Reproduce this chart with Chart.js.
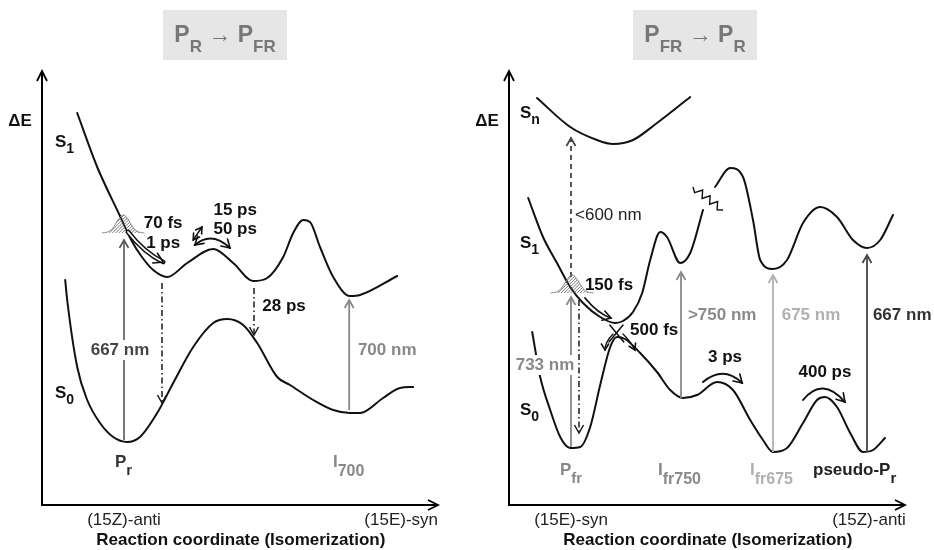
<!DOCTYPE html>
<html>
<head>
<meta charset="utf-8">
<script src="https://cdn.jsdelivr.net/npm/chart.js@4.4.1/dist/chart.umd.min.js"></script>
<style>
  html, body { margin: 0; padding: 0; background: #fff; }
  #wrap { position: relative; width: 934px; height: 550px; }
  .panel { position: absolute; top: 0; width: 467px; height: 550px; }
</style>
</head>
<body>
<div id="wrap">
  <div class="panel" style="left:0"><canvas id="cPr" width="467" height="550"></canvas></div>
  <div class="panel" style="left:467px"><canvas id="cPfr" width="467" height="550"></canvas></div>
</div>
<script>
const FONT = '"Liberation Sans", Arial, Helvetica, sans-serif';

// ---- Potential-energy surfaces, [reaction coordinate, ΔE] ----
const prS1 = [[8.8,78.4],[13.8,67.6],[19.5,57.8],[22.3,53],[24.8,49.8],[27.8,47],[31.3,45.6],[36.3,48.4],[42.8,51.2],[47.8,48.4],[52.8,44.8],[56.3,45.4],[60.3,49.6],[62.8,54.4],[65.3,57],[67,56.6],[69.5,51.6],[72.8,45.6],[77,41.8],[79.5,42],[88.8,45.8]];
const prS0 = [[5.8,45],[6.3,41],[8.8,27.6],[11.3,21],[14.5,16.4],[17.8,13.6],[21.3,12.6],[24.5,13.6],[28.8,18.4],[32.8,24.4],[37.8,31.6],[42.8,36.4],[46.3,37.2],[50.3,36],[53.8,32.4],[58.8,25.6],[62,24],[67.8,21],[72.8,19],[77,18.4],[79.5,18.4],[85.3,21.4],[89.5,23.4],[92.8,23.6]];

const pfrSn = [[7,81.4],[15.3,75.6],[22,73],[26,72.2],[31,73],[37,76.4],[45.3,81.6]];
const pfrS1a = [[4.8,61.4],[8.5,53.6],[12,48.4],[15.3,43.6],[18.5,40.4],[22.8,37.6],[26.5,36.4],[28.5,36.8],[31,38.6],[33.3,42.4],[35.3,49],[37.8,54.6],[39.5,53.6],[42.8,48.4],[45.3,50.4],[48.5,59]];
const pfrS1b = [[51.5,63.6],[55.3,67.4],[58.5,65.6],[61,57],[62.8,49],[66,47.2],[69.5,49],[73.5,56.4],[77.8,59.6],[82,57.6],[86,53],[89.5,51.4],[92.8,53],[96,58]];
const pfrS0 = [[5.8,34.6],[7.8,25.6],[10.3,19],[12.8,13.6],[15.3,11.4],[17.8,11.6],[20.3,15.6],[22.8,24],[25.3,31.6],[27,33.6],[29,33.2],[32.8,30.4],[37,26.6],[40.3,23],[43.5,21.4],[47,22],[52,24.6],[56,23],[60.3,17],[63.5,13],[66,10.6],[69.5,11.4],[73.5,16.4],[77,21],[79,21.6],[82,19.6],[85.3,14.4],[88.5,10.6],[91,11],[94,13.4]];

// ---- Vertical transitions: [coordinate, start ΔE, end ΔE] ----
const prAbsorb667 = [20.5, 13, 53];
const prDecayS1 = [30, 44.4, 20.4];
const prDecay28 = [53, 43.4, 34];
const prAbsorb700 = [76.8, 19, 41];

const pfrProbe600 = [15.5, 45.6, 73.4];
const pfrAbsorb733 = [15.5, 11.6, 41.6];
const pfrDecayS1 = [17.5, 41, 14.4];
const pfrAbsorb750 = [43, 21.4, 46.6];
const pfrAbsorb675 = [66, 10.6, 46];
const pfrAbsorb667 = [89.5, 10.6, 50];

// ---- Wave packets: [centre, base ΔE, peak ΔE, half width] ----
const prPacket = [20.3, 54.4, 58, 5.3];
const pfrPacket = [15.8, 42.4, 46, 5.4];

// ---- Text ----
const panelTitles = [
  [['P',0],['R',1],[' \u2192 ',2],['P',0],['FR',1]],
  [['P',0],['FR',1],[' \u2192 ',2],['P',0],['R',1]]
];
const xTickLabels = [['(15Z)-anti','(15E)-syn'], ['(15E)-syn','(15Z)-anti']];
const xTickValues = [[20.5, 89.8], [15.5, 90]];
const xAxisTitle = 'Reaction coordinate (Isomerization)';
const yAxisTitle = '\u0394E';

const prTimes = ['70 fs', '1 ps', '15 ps', '50 ps', '28 ps'];
const prWaves = ['667 nm', '700 nm'];
const prStates = [[['S',0],['1',1]], [['S',0],['0',1]]];
const prSpecies = [[['P',0],['r',1]], [['I',0],['700',1]]];

const pfrTimes = ['150 fs', '500 fs', '3 ps', '400 ps'];
const pfrWaves = ['<600 nm', '733 nm', '>750 nm', '675 nm', '667 nm'];
const pfrStates = [[['S',0],['n',1]], [['S',0],['1',1]], [['S',0],['0',1]]];
const pfrSpecies = [[['P',0],['fr',1]], [['I',0],['fr750',1]], [['I',0],['fr675',1]], [['pseudo-P',0],['r',1]]];

// ---- Drawing helpers ----
function chevron(ctx, x, y, ang, len, half) {
  const c = Math.cos(ang), s = Math.sin(ang);
  ctx.beginPath();
  ctx.moveTo(x - len * c + half * s, y - len * s - half * c);
  ctx.lineTo(x, y);
  ctx.lineTo(x - len * c - half * s, y - len * s + half * c);
  ctx.stroke();
}

function vArrow(ctx, X, Y, t, st) {
  const px = X(t[0]), a = Y(t[1]), b = Y(t[2]);
  ctx.save();
  ctx.strokeStyle = st.color;
  ctx.lineWidth = st.width;
  ctx.setLineDash(st.dash || []);
  ctx.beginPath(); ctx.moveTo(px, a); ctx.lineTo(px, b); ctx.stroke();
  ctx.setLineDash([]);
  ctx.lineWidth = Math.max(1.4, st.width);
  chevron(ctx, px, b, b < a ? -Math.PI / 2 : Math.PI / 2, 8, 4.5);
  ctx.restore();
}

function qArrow(ctx, X, Y, p0, c, p1, st) {
  const a = [X(p0[0]), Y(p0[1])], m = [X(c[0]), Y(c[1])], b = [X(p1[0]), Y(p1[1])];
  ctx.save();
  ctx.lineCap = 'round';
  const path = () => { ctx.beginPath(); ctx.moveTo(a[0], a[1]); ctx.quadraticCurveTo(m[0], m[1], b[0], b[1]); };
  if (st.hollow) {
    ctx.strokeStyle = '#111'; ctx.lineWidth = 4.6; path(); ctx.stroke();
    ctx.strokeStyle = '#fff'; ctx.lineWidth = 1.8; path(); ctx.stroke();
  } else {
    ctx.strokeStyle = '#111'; ctx.lineWidth = st.width; path(); ctx.stroke();
  }
  ctx.strokeStyle = '#111';
  ctx.lineWidth = 1.6;
  const hl = st.head || 8;
  chevron(ctx, b[0], b[1], Math.atan2(b[1] - m[1], b[0] - m[0]), hl, hl * 0.6);
  if (st.both) chevron(ctx, a[0], a[1], Math.atan2(a[1] - m[1], a[0] - m[0]), hl, hl * 0.6);
  ctx.restore();
}

function segment(ctx, X, Y, p0, p1, width) {
  ctx.save();
  ctx.strokeStyle = '#111'; ctx.lineWidth = width; ctx.lineCap = 'round';
  ctx.beginPath(); ctx.moveTo(X(p0[0]), Y(p0[1])); ctx.lineTo(X(p1[0]), Y(p1[1])); ctx.stroke();
  ctx.restore();
}

function wavePacket(ctx, X, Y, w) {
  const xc = X(w[0]), yb = Y(w[1]), h = Y(w[1]) - Y(w[2]), hw = X(w[0] + w[3]) - xc;
  const trace = () => {
    ctx.beginPath();
    for (let i = 0; i <= 80; i++) {
      const t = -1 + 2 * i / 80;
      const x = xc + t * hw, y = yb - h * Math.exp(-Math.pow(t * 2.3, 2));
      if (i) ctx.lineTo(x, y); else ctx.moveTo(x, y);
    }
  };
  ctx.save();
  trace(); ctx.closePath();
  ctx.save(); ctx.clip();
  ctx.strokeStyle = '#6a6a6a'; ctx.lineWidth = 0.9;
  for (let k = -30; k < 2 * hw + 10; k += 3.2) {
    ctx.beginPath();
    ctx.moveTo(xc - hw + k, yb + 2);
    ctx.lineTo(xc - hw + k + h + 4, yb - h - 2);
    ctx.stroke();
  }
  ctx.restore();
  trace();
  ctx.strokeStyle = '#7a7a7a'; ctx.lineWidth = 1; ctx.stroke();
  ctx.restore();
}

function zigzag(ctx, X, Y, p0, p1, teeth) {
  const a = [X(p0[0]), Y(p0[1])], b = [X(p1[0]), Y(p1[1])];
  const dx = b[0] - a[0], dy = b[1] - a[1], L = Math.hypot(dx, dy);
  const nx = -dy / L, ny = dx / L;
  ctx.save();
  ctx.strokeStyle = '#111'; ctx.lineWidth = 1.4;
  ctx.beginPath(); ctx.moveTo(a[0], a[1]);
  for (let i = 1; i < teeth * 2; i++) {
    const f = i / (teeth * 2), o = (i % 2 ? 3.5 : -3.5);
    ctx.lineTo(a[0] + dx * f + nx * o, a[1] + dy * f + ny * o);
  }
  ctx.lineTo(b[0], b[1]);
  ctx.stroke();
  ctx.restore();
}

function rich(ctx, segs, x, y, o) {
  const size = o.size || 17, sub = o.sub || 14, dy = o.dy || 6;
  const wt = o.bold === false ? '' : 'bold ';
  const fontOf = s => s === 1 ? `${wt}${sub}px ${FONT}` : s === 2 ? `${size}px ${FONT}` : `${wt}${size}px ${FONT}`;
  let total = 0;
  const widths = segs.map(([t, s]) => { ctx.font = fontOf(s); const w = ctx.measureText(t).width; total += w; return w; });
  let cx = o.align === 'center' ? x - total / 2 : (o.align === 'right' ? x - total : x);
  ctx.save();
  ctx.textAlign = 'left'; ctx.textBaseline = 'alphabetic'; ctx.fillStyle = o.color || '#111';
  segs.forEach(([t, s], i) => { ctx.font = fontOf(s); ctx.fillText(t, cx, s === 1 ? y + dy : y); cx += widths[i]; });
  ctx.restore();
}

function label(ctx, text, x, y, o) {
  ctx.save();
  ctx.font = `${o.bold === false ? '' : 'bold '}${o.size || 17}px ${FONT}`;
  ctx.textAlign = o.align || 'center';
  ctx.textBaseline = 'middle';
  if (o.bg) {
    const w = ctx.measureText(text).width;
    const left = ctx.textAlign === 'center' ? x - w / 2 : (ctx.textAlign === 'right' ? x - w : x);
    ctx.fillStyle = o.bg; ctx.fillRect(left - 2, y - 10, w + 4, 20);
  }
  ctx.fillStyle = o.color || '#111';
  ctx.fillText(text, x, y);
  ctx.restore();
}

function frame(ctx, X, ca, idx, titleCentre) {
  ctx.save();
  // title box
  ctx.fillStyle = '#e6e6e6';
  ctx.fillRect(titleCentre - 62, 10, 124, 50);
  rich(ctx, panelTitles[idx], titleCentre, 42, { size: 23, sub: 17, dy: 10, color: '#777', align: 'center' });
  // axes with arrow heads
  ctx.strokeStyle = '#000'; ctx.lineWidth = 2; ctx.lineCap = 'butt';
  ctx.beginPath();
  ctx.moveTo(ca.left, ca.top + 2); ctx.lineTo(ca.left, ca.bottom); ctx.lineTo(ca.right - 4, ca.bottom);
  ctx.stroke();
  ctx.lineWidth = 1.8;
  chevron(ctx, ca.left, ca.top + 1, -Math.PI / 2, 10, 5);
  chevron(ctx, ca.right - 4, ca.bottom, 0, 10, 5);
  // axis texts
  label(ctx, yAxisTitle, ca.left - 22, 121, { size: 17, color: '#111' });
  xTickLabels[idx].forEach((t, i) => label(ctx, t, X(xTickValues[idx][i]), 520, { size: 17, bold: false, color: '#222' }));
  label(ctx, xAxisTitle, X(49.7), 540, { size: 17, color: '#111' });
  ctx.restore();
}

function drawPr(ctx, X, Y, ca) {
  frame(ctx, X, ca, 0, 225);
  vArrow(ctx, X, Y, prAbsorb667, { color: '#555', width: 1.6 });
  vArrow(ctx, X, Y, prDecayS1, { color: '#1a1a1a', width: 1.5, dash: [6, 3, 1.5, 3] });
  vArrow(ctx, X, Y, prDecay28, { color: '#1a1a1a', width: 1.5, dash: [6, 3, 1.5, 3] });
  vArrow(ctx, X, Y, prAbsorb700, { color: '#888', width: 1.8 });
  wavePacket(ctx, X, Y, prPacket);
  qArrow(ctx, X, Y, [21.5, 54.6], [25.6, 50.4], [30.3, 48.6], { hollow: true, head: 9 });
  qArrow(ctx, X, Y, [38.2, 52], [42.4, 54.9], [47, 51.4], { width: 2, both: true, head: 8 });
  qArrow(ctx, X, Y, [37.8, 53], [38.9, 54.3], [40, 55.6], { width: 1.4, both: true, head: 6 });

  label(ctx, prTimes[0], X(30.3), Y(56.4), {});
  label(ctx, prTimes[1], X(30.3), Y(52.4), {});
  label(ctx, prTimes[2], X(48.3), Y(59), {});
  label(ctx, prTimes[3], X(48.3), Y(55.2), {});
  label(ctx, prTimes[4], X(60.5), Y(39.8), {});
  label(ctx, prWaves[0], X(19.5), Y(31), { color: '#444', bg: '#fff' });
  label(ctx, prWaves[1], X(86.3), Y(31), { color: '#888' });

  rich(ctx, prStates[0], X(3.25), Y(71.6), { color: '#111' });
  rich(ctx, prStates[1], X(3.25), Y(21.4), { color: '#111' });
  rich(ctx, prSpecies[0], X(18.25), Y(7.6), { sub: 15, dy: 8, color: '#333' });
  rich(ctx, prSpecies[1], X(72.75), Y(7.6), { sub: 16, dy: 9, color: '#888' });
}

function drawPfr(ctx, X, Y, ca) {
  frame(ctx, X, ca, 1, 228);
  vArrow(ctx, X, Y, pfrProbe600, { color: '#444', width: 1.8, dash: [5, 4] });
  vArrow(ctx, X, Y, pfrAbsorb733, { color: '#888', width: 1.8 });
  vArrow(ctx, X, Y, pfrDecayS1, { color: '#1a1a1a', width: 1.5, dash: [6, 3, 1.5, 3] });
  vArrow(ctx, X, Y, pfrAbsorb750, { color: '#8a8a8a', width: 1.8 });
  vArrow(ctx, X, Y, pfrAbsorb675, { color: '#b0b0b0', width: 1.8 });
  vArrow(ctx, X, Y, pfrAbsorb667, { color: '#444', width: 1.8 });
  wavePacket(ctx, X, Y, pfrPacket);
  zigzag(ctx, X, Y, [46, 63.6], [53.5, 59], 4);

  // conical intersection between S1 and S0
  segment(ctx, X, Y, [25.2, 36], [28.7, 32.6], 1.5);
  segment(ctx, X, Y, [28.5, 36], [25, 32.6], 1.5);

  qArrow(ctx, X, Y, [19, 41.4], [22.3, 38.2], [25.5, 37.4], { width: 1.8, head: 8 });
  qArrow(ctx, X, Y, [26, 34.2], [24, 32.6], [24, 31], { width: 1.3, head: 6 });
  qArrow(ctx, X, Y, [28.5, 34.2], [30.5, 32.6], [31.5, 31], { width: 1.3, head: 6 });
  qArrow(ctx, X, Y, [48.5, 24.6], [53.6, 28], [58.3, 24.4], { width: 2, head: 8 });
  qArrow(ctx, X, Y, [73.5, 21], [78.3, 25.8], [84, 20.6], { width: 2, head: 8 });

  label(ctx, pfrTimes[0], X(25), Y(44), {});
  label(ctx, pfrTimes[1], X(36.3), Y(35), {});
  label(ctx, pfrTimes[2], X(54), Y(29.6), {});
  label(ctx, pfrTimes[3], X(79), Y(26.6), {});
  label(ctx, pfrWaves[0], X(16.5), Y(58), { align: 'left', bold: false, color: '#222' });
  label(ctx, pfrWaves[1], X(9), Y(28), { color: '#888', bg: '#fff' });
  label(ctx, pfrWaves[2], X(53.3), Y(38), { color: '#8a8a8a' });
  label(ctx, pfrWaves[3], X(75.5), Y(38), { color: '#b0b0b0' });
  label(ctx, pfrWaves[4], X(98.3), Y(38), { color: '#333' });

  rich(ctx, pfrStates[0], X(2.75), Y(77.4), { color: '#111' });
  rich(ctx, pfrStates[1], X(2.75), Y(51.4), { color: '#111' });
  rich(ctx, pfrStates[2], X(2.75), Y(18), { color: '#111' });
  rich(ctx, pfrSpecies[0], X(12.75), Y(6), { sub: 15, dy: 8, color: '#888' });
  rich(ctx, pfrSpecies[1], X(37.25), Y(6), { sub: 16, dy: 9, color: '#888' });
  rich(ctx, pfrSpecies[2], X(60.25), Y(6), { sub: 16, dy: 9, color: '#b0b0b0' });
  rich(ctx, pfrSpecies[3], X(76), Y(6), { sub: 15, dy: 8, color: '#222' });
}

function curveSet(list) {
  return list.map(c => ({
    data: c.map(([x, y]) => ({ x, y })),
    showLine: true,
    borderColor: '#111',
    borderWidth: 2,
    pointRadius: 0,
    fill: false,
    cubicInterpolationMode: 'monotone',
    borderJoinStyle: 'round',
    borderCapStyle: 'round'
  }));
}

function build(id, curves, painter) {
  return new Chart(document.getElementById(id), {
    type: 'scatter',
    data: { datasets: curveSet(curves) },
    options: {
      responsive: false,
      animation: false,
      events: [],
      layout: { padding: { left: 42, right: 25, top: 70, bottom: 45 } },
      scales: {
        x: { type: 'linear', min: 0, max: 100, display: false },
        y: { type: 'linear', min: 0, max: 87, display: false }
      },
      plugins: { legend: { display: false }, tooltip: { enabled: false } }
    },
    plugins: [{
      id: 'scheme',
      afterDatasetsDraw(chart) {
        const xs = chart.scales.x, ys = chart.scales.y;
        painter(chart.ctx, v => xs.getPixelForValue(v), v => ys.getPixelForValue(v), chart.chartArea);
      }
    }]
  });
}

build('cPr', [prS1, prS0], drawPr);
build('cPfr', [pfrSn, pfrS1a, pfrS1b, pfrS0], drawPfr);
</script>
</body>
</html>
